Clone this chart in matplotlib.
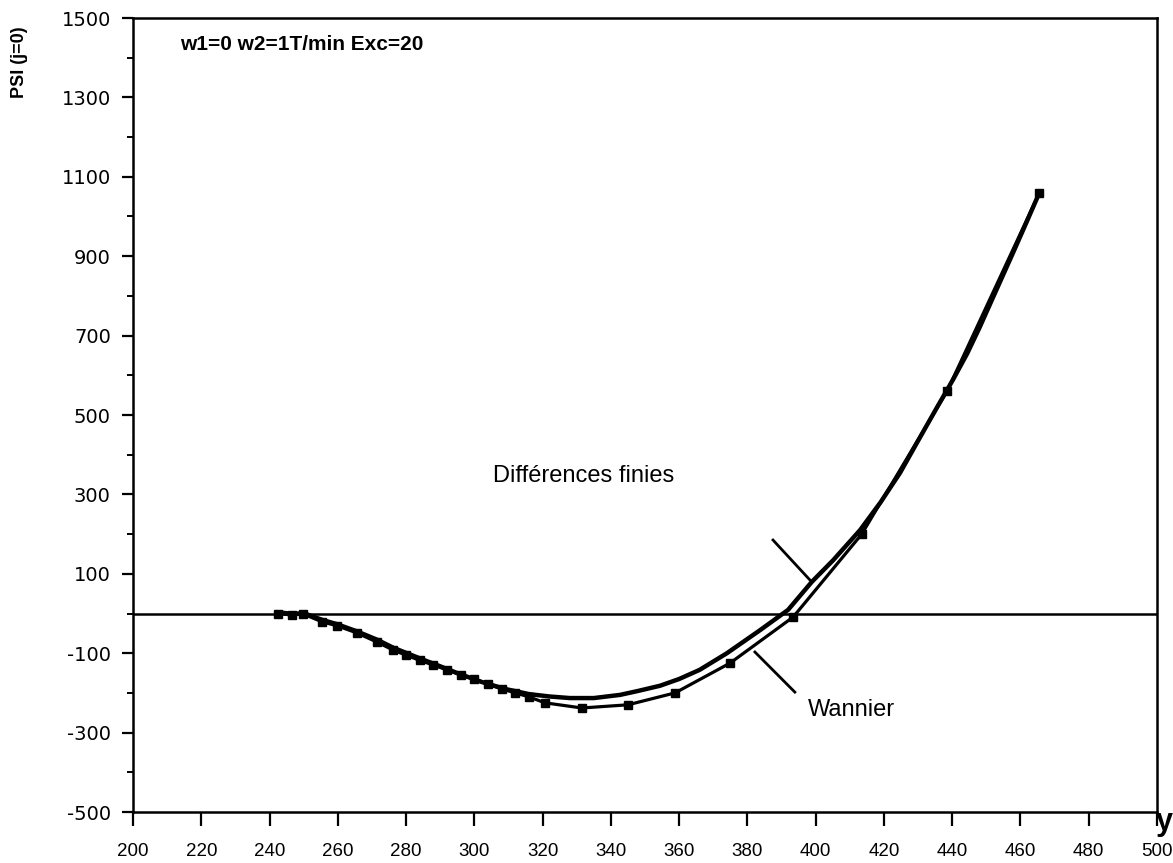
import matplotlib
matplotlib.use("Agg")
import matplotlib.pyplot as plt

plt.rcParams["axes.unicode_minus"] = False

# Différences finies (upper curve near the minimum)
df_x = [242.5, 247, 250, 255.4, 259.8, 265.6, 271.5, 276.2, 284, 290, 295, 302, 309, 316,
        322, 328, 335, 342.7, 348, 354.4, 360, 366, 374, 383.7, 391.9, 398.9, 405.1, 413,
        419, 424.7, 430, 435.6, 440.3, 444.4, 448, 452, 458, 462, 465.5]
df_y = [3, -1, 1, -16, -27, -45, -66, -86, -113, -133, -150, -172, -190, -203,
        -209, -213, -213, -205, -195, -182, -165, -142, -100, -42, 9, 80, 134, 210,
        280, 354, 435, 520, 590, 655, 720, 797, 912, 990, 1059]

# Wannier (lower curve, with markers)
wa_x = [242.5, 246.6, 249.8, 255.4, 259.8, 265.6, 271.5, 276.2, 280, 284, 288, 292, 296,
        300, 304, 308, 312, 316, 320.7, 331.5, 345, 358.8, 374.9, 393.4, 413.5, 438.5, 465.5]
wa_y = [0, -4, -1, -21, -31, -49, -72, -92, -105, -118, -130, -142, -155,
        -165, -178, -190, -200, -210, -225, -238, -230, -200, -125, -9, 200, 560, 1059]

x_ticks = list(range(200, 501, 20))
y_ticks = list(range(-500, 1501, 200))
y_minor = list(range(-400, 1501, 200))

fig = plt.figure(figsize=(11.73, 8.63), dpi=100)
ax = fig.add_axes([133/1173, 1-812/863, (1157-133)/1173, (812-18)/863])

ax.axhline(0, color="black", lw=1.8, zorder=1)
ax.plot(df_x, df_y, color="black", lw=3.2, zorder=3, solid_joinstyle="round")
ax.plot(wa_x, wa_y, color="black", lw=2.3, marker="s", ms=5.5, zorder=3,
        solid_joinstyle="round")

# pointer lines
ax.plot([387.5, 398.9], [185, 79], color="black", lw=2.0)
ax.plot([382.2, 393.9], [-97, -198], color="black", lw=2.0)

ax.text(213.8, 1432, "w1=0 w2=1T/min Exc=20", fontsize=15, fontweight="bold",
        family="Liberation Sans", va="center", ha="left")
ax.text(332, 346, "Différences finies", fontsize=17, family="Liberation Sans",
        va="center", ha="center")
ax.text(397.8, -243, "Wannier", fontsize=17, family="Liberation Sans",
        va="center", ha="left")

ax.set_xlim(200, 500)
ax.set_ylim(-500, 1500)
ax.set_xticks(x_ticks)
ax.set_yticks(y_ticks)
ax.set_yticks(y_minor, minor=True)
ax.tick_params(axis="x", direction="out", length=10, width=1.6, pad=12)
ax.tick_params(axis="y", which="major", direction="out", length=8, width=1.6, pad=8)
ax.tick_params(axis="y", which="minor", direction="out", length=4, width=1.4)
for lab in ax.get_xticklabels():
    lab.set_family("Liberation Sans")
    lab.set_fontsize(13.5)
for lab in ax.get_yticklabels():
    lab.set_family("DejaVu Sans")
    lab.set_fontsize(14)
for s in ax.spines.values():
    s.set_linewidth(1.8)

fig.text(20/1173, 1-62/863, "PSI (j=0)", rotation=90, fontsize=13, fontweight="bold",
         family="Liberation Sans", ha="center", va="center")
fig.text(1164/1173, 1-822/863, "y", fontsize=22, fontweight="bold",
         family="Liberation Sans", ha="center", va="center")

fig.savefig("out.png", dpi=100)
